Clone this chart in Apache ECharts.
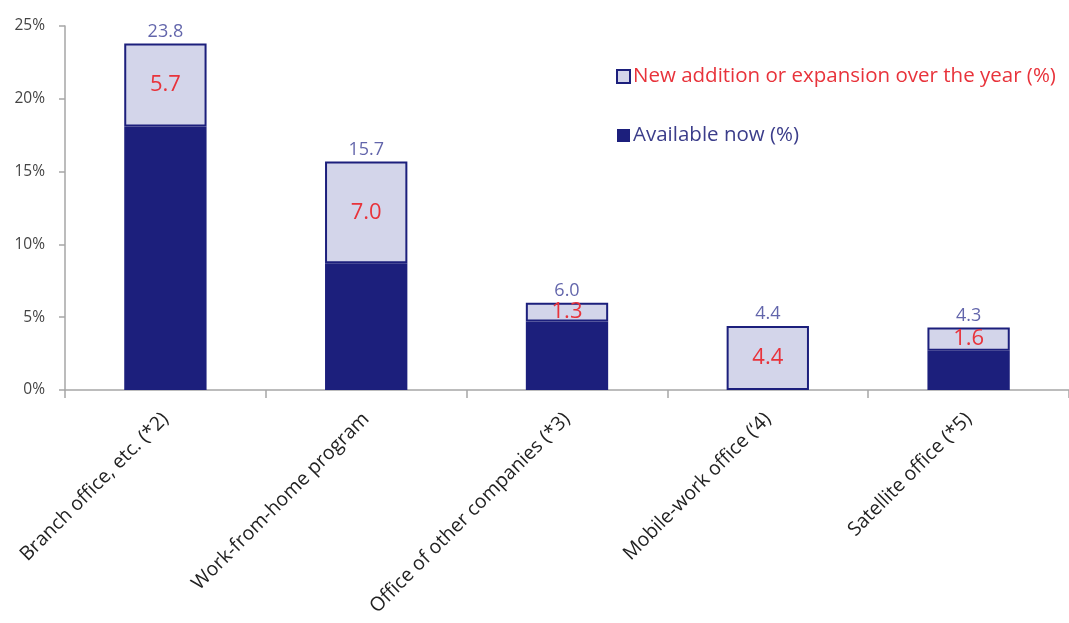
<!DOCTYPE html>
<html>
<head>
<meta charset="utf-8">
<script src="https://cdn.jsdelivr.net/npm/echarts@6/dist/echarts.min.js"></script>
<style>html,body{margin:0;padding:0;background:#fff;}#c{width:1069px;height:623px;}</style>
</head>
<body>
<div id="c"></div>
<script>
const categories = ['Branch office, etc. (*2)', 'Work-from-home program', 'Office of other companies (*3)', 'Mobile-work office (\u20184)', 'Satellite office (*5)'];
const availableNow = [18.1, 8.7, 4.7, 0, 2.7];
const newAddition = [5.7, 7.0, 1.3, 4.4, 1.6];
const totals = [23.8, 15.7, 6.0, 4.4, 4.3];
const yTicks = [0, 5, 10, 15, 20, 25];

const NAVY = '#1c1f7c';
const LIGHT = '#d3d5ea';
const RED = '#e8333b';
const FONT = '"Open Sans", "Noto Sans", sans-serif';

const chart = echarts.init(document.getElementById('c'), null, {renderer: 'canvas'});
chart.setOption({
  animation: false,
  backgroundColor: '#fff',
  textStyle: {fontFamily: FONT},
  grid: {left: 65, right: -5, top: 26, bottom: 233, containLabel: false},
  legend: {
    orient: 'vertical',
    left: 611,
    top: 61,
    itemGap: 38,
    itemWidth: 13,
    itemHeight: 13,
    icon: 'rect',
    data: [
      {name: 'New addition or expansion over the year (%)', textStyle: {color: RED}},
      {name: 'Available now (%)', textStyle: {color: '#3b3d8a'}}
    ],
    textStyle: {fontSize: 20.5, fontFamily: FONT, padding: [0, 0, 0, -2]}
  },
  xAxis: {
    type: 'category',
    data: categories,
    axisLine: {lineStyle: {color: '#a6a6a6', width: 1.5}},
    axisTick: {show: true, length: 8, lineStyle: {color: '#a6a6a6', width: 1.5}},
    axisLabel: {rotate: 45, fontSize: 19.5, color: '#222', margin: 26, fontFamily: FONT, interval: 0}
  },
  yAxis: {
    type: 'value',
    min: yTicks[0],
    max: yTicks[yTicks.length - 1],
    interval: 5,
    axisLine: {show: true, lineStyle: {color: '#a6a6a6', width: 1.5}},
    axisTick: {show: true, length: 6, lineStyle: {color: '#a6a6a6', width: 1.5}},
    splitLine: {show: false},
    axisLabel: {formatter: '{value}%', fontSize: 15.5, color: '#444', margin: 20, fontFamily: FONT}
  },
  series: [
    {
      name: 'Available now (%)',
      type: 'bar',
      stack: 'a',
      barWidth: '41%',
      data: availableNow,
      itemStyle: {color: NAVY}
    },
    {
      name: 'New addition or expansion over the year (%)',
      type: 'bar',
      stack: 'a',
      barWidth: '41%',
      data: newAddition,
      itemStyle: {color: LIGHT, borderColor: NAVY, borderWidth: 2},
      label: {
        show: true,
        position: 'inside',
        color: RED,
        fontSize: 22,
        fontFamily: FONT,
        formatter: p => p.value.toFixed(1)
      }
    },
    {
      name: 'total',
      type: 'scatter',
      data: totals,
      symbolSize: 0,
      silent: true,
      label: {
        show: true,
        position: 'top',
        distance: 3,
        color: '#3b3f96',
        fontSize: 18,
        fontFamily: FONT,
        formatter: p => p.value.toFixed(1)
      }
    }
  ]
});
</script>
</body>
</html>
